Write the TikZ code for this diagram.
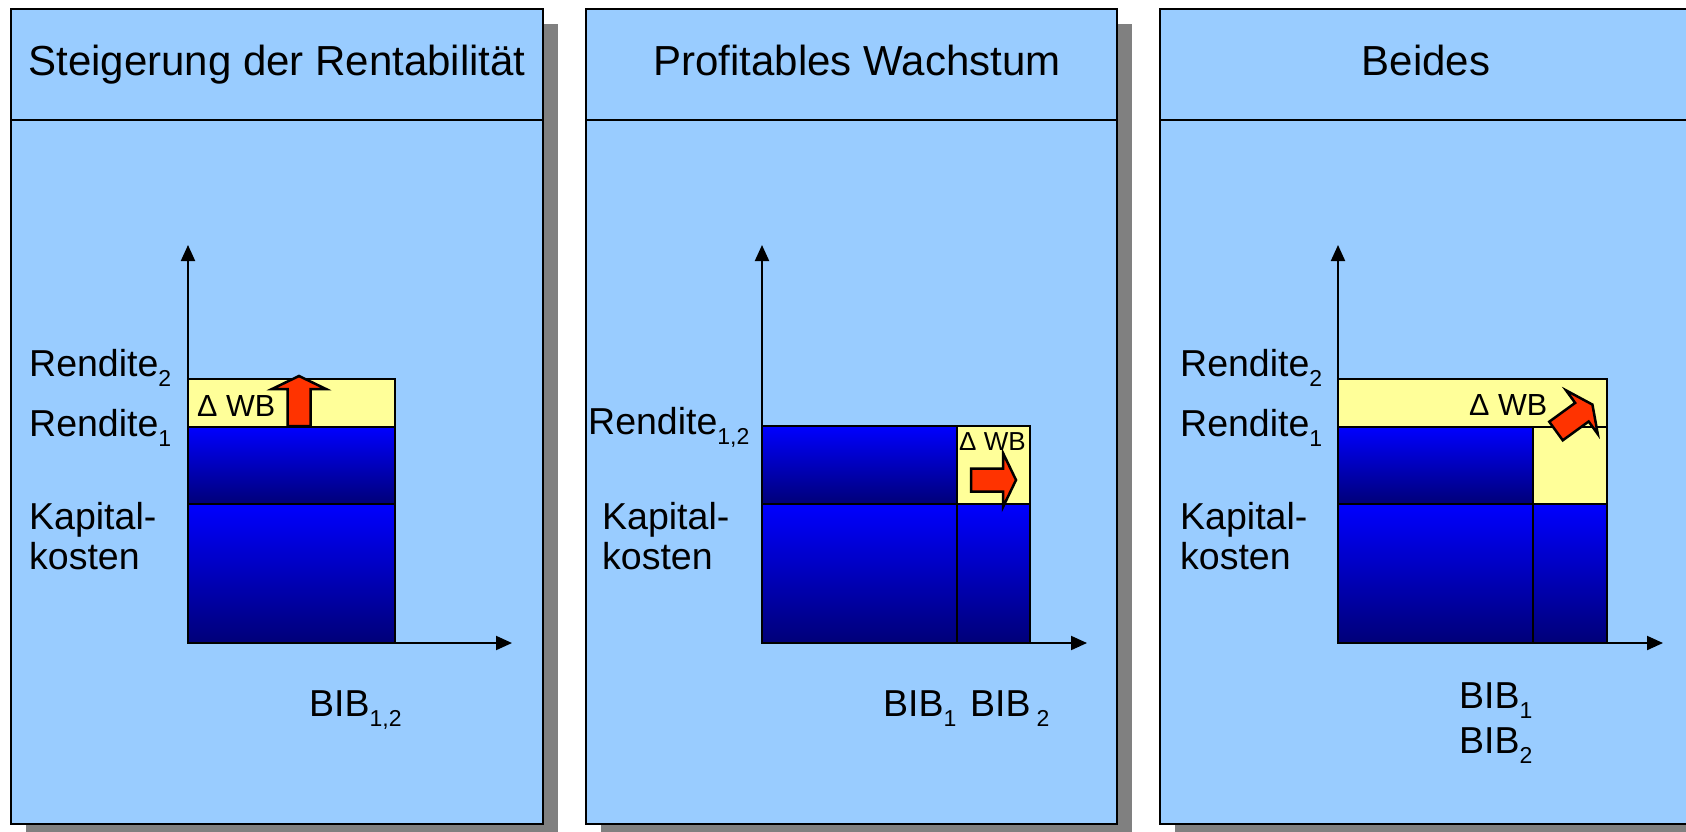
\documentclass[tikz,border=0pt]{standalone}
\usepackage{fontspec}
\setmainfont{Liberation Sans}
\usetikzlibrary{arrows.meta}
\definecolor{panelblue}{HTML}{99CCFF}
\definecolor{wbyellow}{HTML}{FFFF99}
\definecolor{barblue}{HTML}{0000FF}
\definecolor{barnavy}{HTML}{000078}
\definecolor{arrowred}{HTML}{FF3300}
\definecolor{shadowgray}{HTML}{808080}
\newcommand\sub[1]{\raisebox{-10pt}{\fontsize{23}{23}\selectfont #1}}
\newcommand\blkarrow[4]{%
  \draw[blockarrow, shift={(#1,#2)}, rotate=#3]
    (0,-11.5) -- (#4,-11.5) -- (#4,-27) -- ({#4+13},0) -- (#4,27) -- (#4,11.5) -- (0,11.5) -- cycle;}
\begin{document}
\begin{tikzpicture}[x=1pt,y=-1pt,
  panelbox/.style={draw=black, line width=2.5pt, fill=panelblue},
  shadowbox/.style={fill=shadowgray},
  sepline/.style={draw=black, line width=2pt},
  cellbox/.style={draw=black, line width=2.5pt},
  yellowbox/.style={cellbox, fill=wbyellow},
  bluebox/.style={cellbox, top color=barblue, bottom color=barnavy},
  axisline/.style={line width=2pt, -{Triangle[length=16pt,width=14pt]}},
  titletext/.style={font=\fontsize{42}{50}\selectfont, inner sep=0pt, anchor=base},
  lbl/.style={font=\fontsize{37.5}{44}\selectfont, inner sep=0pt, anchor=base west},
  wbtext/.style={font=\fontsize{30.5}{35}\selectfont, inner sep=0pt, anchor=base west},
  wbsmall/.style={font=\fontsize{26}{30}\selectfont, inner sep=0pt, anchor=base west},
  blockarrow/.style={draw=black, line width=2.5pt, fill=arrowred, line join=miter},
]
\useasboundingbox (0,0) rectangle (1686,831);
\clip (0,0) rectangle (1686,831);
\fill[white] (0,0) rectangle (1686,831);

% ---------- Panel 1 ----------
\fill[shadowbox] (26,24) rectangle (558,845);
\draw[panelbox] (11,9) rectangle (543,824);
\draw[sepline] (11,120) -- (543,120);
\node[titletext] (h1) at (277,75) {Steigerung der Rentabilität};
\draw[yellowbox] (188,379) rectangle (395,427);
\draw[bluebox] (188,427) rectangle (395,504);
\draw[bluebox] (188,504) rectangle (395,643);
\coordinate (o1) at (188,643);
\coordinate (ya) at (188,245);
\coordinate (xa) at (512,643);
\draw[axisline] (o1) -- (ya);
\draw[axisline] (o1) -- (xa);
\node[lbl] (r2a) at (29,376) {Rendite\sub{2}};
\node[lbl] (r1a) at (29,436) {Rendite\sub{1}};
\node[lbl] (k1a) at (29,529) {Kapital-};
\node[lbl] (k2a) at (29,569) {kosten};
\node[lbl] (b12) at (309,716) {BIB\sub{1,2}};
\node[wbtext] (wb1) at (197,416) {Δ WB};
\blkarrow{299}{426}{90}{37}

% ---------- Panel 2 ----------
\fill[shadowbox] (601,24) rectangle (1132,845);
\draw[panelbox] (586,9) rectangle (1117,824);
\draw[sepline] (586,120) -- (1117,120);
\node[titletext] (h2) at (857,75) {Profitables Wachstum};
\draw[bluebox] (762,426) rectangle (957,504);
\draw[yellowbox] (957,426) rectangle (1030,504);
\draw[bluebox] (762,504) rectangle (957,643);
\draw[bluebox] (957,504) rectangle (1030,643);
\coordinate (o2) at (762,643);
\coordinate (yb) at (762,245);
\coordinate (xb) at (1087,643);
\draw[axisline] (o2) -- (yb);
\draw[axisline] (o2) -- (xb);
\node[lbl] (r12) at (588,434) {Rendite\sub{1,2}};
\node[lbl] (k1b) at (602,529) {Kapital-};
\node[lbl] (k2b) at (602,569) {kosten};
\node[lbl] (b1b) at (883,716) {BIB\sub{1}};
\node[lbl] (b2b) at (970,716) {BIB\sub{\hspace{6pt}2}};
\node[wbsmall] (wb2) at (959,450) {Δ WB};
\blkarrow{971}{480}{0}{32}

% ---------- Panel 3 ----------
\fill[shadowbox] (1175,24) rectangle (1707,845);
\draw[panelbox] (1160,9) rectangle (1692,824);
\draw[sepline] (1160,120) -- (1692,120);
\node[titletext] (h3) at (1426,75) {Beides};
\draw[yellowbox] (1338,379) rectangle (1607,427);
\draw[yellowbox] (1533,427) rectangle (1607,504);
\draw[bluebox] (1338,427) rectangle (1533,504);
\draw[bluebox] (1338,504) rectangle (1533,643);
\draw[bluebox] (1533,504) rectangle (1607,643);
\coordinate (o3) at (1338,643);
\coordinate (yc) at (1338,245);
\coordinate (xc) at (1663,643);
\draw[axisline] (o3) -- (yc);
\draw[axisline] (o3) -- (xc);
\node[lbl] (r2c) at (1180,376) {Rendite\sub{2}};
\node[lbl] (r1c) at (1180,436) {Rendite\sub{1}};
\node[lbl] (k1c) at (1180,529) {Kapital-};
\node[lbl] (k2c) at (1180,569) {kosten};
\node[lbl] (b1c) at (1459,708) {BIB\sub{1}};
\node[lbl] (b2c) at (1459,753) {BIB\sub{2}};
\node[wbtext] (wb3) at (1469,415) {Δ WB};
\blkarrow{1556}{431}{36}{32}
\end{tikzpicture}
\end{document}
